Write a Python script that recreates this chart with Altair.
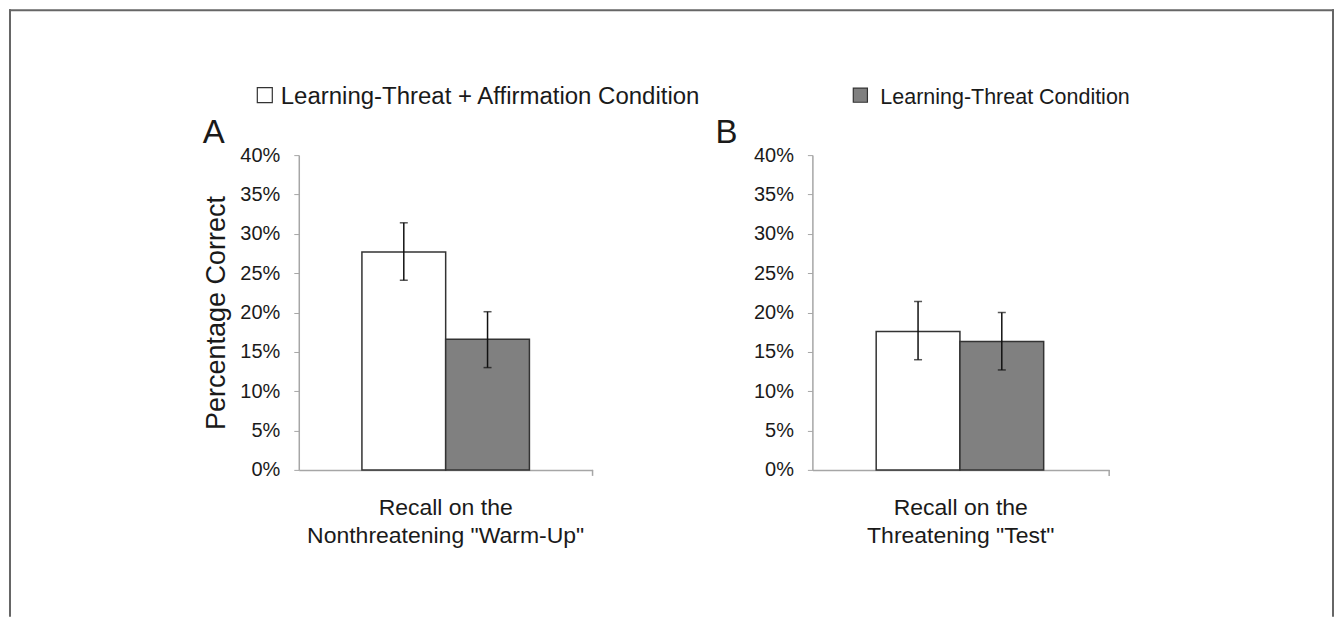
import altair as alt
import pandas as pd

# ---------------- data ----------------
panels = ["A", "B"]
groups = ['Recall on the|Nonthreatening "Warm-Up"', 'Recall on the|Threatening "Test"']
conditions = ["Learning-Threat + Affirmation Condition", "Learning-Threat Condition"]
affirm_mean = [27.7, 17.6]
affirm_lo = [24.1, 14.0]
affirm_hi = [31.4, 21.4]
threat_mean = [16.6, 16.3]
threat_lo = [13.0, 12.7]
threat_hi = [20.1, 20.0]
y_ticks = [0, 5, 10, 15, 20, 25, 30, 35, 40]
y_title = "Percentage Correct"

rows = []
for i, p in enumerate(panels):
    rows.append(dict(panel=p, group=groups[i], cond=conditions[0],
                     mean=affirm_mean[i] / 100, lo=affirm_lo[i] / 100, hi=affirm_hi[i] / 100))
    rows.append(dict(panel=p, group=groups[i], cond=conditions[1],
                     mean=threat_mean[i] / 100, lo=threat_lo[i] / 100, hi=threat_hi[i] / 100))
df = pd.DataFrame(rows)

FONT = "Liberation Sans"
TXT = "#1a1a1a"
AXC = "#a6a6a6"
WIDTHS = [294, 297]
H = 315


def panel(i):
    W = WIDTHS[i]
    base = alt.Chart(df).transform_filter(alt.datum.panel == panels[i])

    x = alt.X("group:N", title=None,
              scale=alt.Scale(paddingOuter=0.377, paddingInner=0),
              axis=alt.Axis(labelExpr="split(datum.label, '|')", ticks=False,
                            labelAngle=0, labelFontSize=23, labelLineHeight=28,
                            labelPadding=27, labelColor=TXT, domainColor=AXC,
                            domainWidth=1.5, labelFont=FONT, labelLimit=600))
    xo = alt.XOffset("cond:N", sort=conditions,
                     scale=alt.Scale(domain=conditions, paddingInner=0, paddingOuter=0))

    def yenc(field):
        kw = dict(scale=alt.Scale(domain=[0, 0.4], nice=False),
                  axis=alt.Axis(values=[v / 100 for v in y_ticks], format=".0%",
                                grid=False, labelFontSize=20, labelPadding=14,
                                labelColor=TXT, tickSize=5, tickColor=AXC,
                                domainColor=AXC, domainWidth=1.5, labelFont=FONT,
                                titleFontSize=27, titleFontWeight="normal",
                                titleColor=TXT, titlePadding=9, titleFont=FONT))
        if i == 0:
            kw["title"] = y_title
        else:
            kw["title"] = None
        return alt.Y(field, **kw)

    bars = base.mark_bar(stroke="#333333", strokeWidth=1.5).encode(
        x=x, xOffset=xo, y=yenc("mean:Q"),
        color=alt.Color("cond:N", scale=alt.Scale(domain=conditions,
                                                  range=["#ffffff", "#808080"]),
                        legend=None))
    err = base.mark_rule(color="#111111", strokeWidth=1.5).encode(
        x=x, xOffset=xo, y=yenc("lo:Q"), y2="hi:Q")
    cap_lo = base.mark_tick(color="#111111", size=8, thickness=1.5).encode(
        x=x, xOffset=xo, y=yenc("lo:Q"))
    cap_hi = base.mark_tick(color="#111111", size=8, thickness=1.5).encode(
        x=x, xOffset=xo, y=yenc("hi:Q"))

    one = pd.DataFrame({"label": [conditions[i]], "letter": [panels[i]]})
    end_tick = alt.Chart(one).mark_rule(color=AXC, strokeWidth=1.5).encode(
        x=alt.value(W), y=alt.value(H), y2=alt.value(H + 6))
    letter = alt.Chart(one).mark_text(font=FONT, fontSize=33, align="left",
                                      baseline="alphabetic", color=TXT).encode(
        text="letter:N", x=alt.value(-96 if i == 0 else -97), y=alt.value(-12))

    if i == 0:
        sq_x, tx_x, fs, sq_size = -34, -18, 24, 225
        sq_fill = "#ffffff"
    else:
        sq_x, tx_x, fs, sq_size = 48, 68, 21.5, 200
        sq_fill = "#808080"
    square = alt.Chart(one).mark_square(size=sq_size, fill=sq_fill, stroke="#333333",
                                        strokeWidth=1.2, opacity=1).encode(
        x=alt.value(sq_x), y=alt.value(-60))
    leg = alt.Chart(one).mark_text(font=FONT, fontSize=fs, align="left",
                                   baseline="alphabetic", color=TXT).encode(
        text="label:N", x=alt.value(tx_x), y=alt.value(-51))

    layers = [bars, err, cap_lo, cap_hi, end_tick, letter, square, leg]
    if i == 0:
        top = alt.Chart(one).mark_rule(color="#666666", strokeWidth=2).encode(
            x=alt.value(-290), x2=alt.value(1036), y=alt.value(-145))
        left = alt.Chart(one).mark_rule(color="#666666", strokeWidth=2).encode(
            x=alt.value(-289), y=alt.value(-146), y2=alt.value(462))
        right = alt.Chart(one).mark_rule(color="#666666", strokeWidth=2).encode(
            x=alt.value(1035), y=alt.value(-146), y2=alt.value(462))
        layers = [top, left, right] + layers
    return alt.layer(*layers).properties(width=W, height=H)


chart = alt.hconcat(panel(0), panel(1), spacing=220, bounds="flush", padding=0) \
    .configure(font=FONT) \
    .configure_view(strokeWidth=0)

chart.save("out.html", embed_options={"renderer": "svg", "actions": False})
